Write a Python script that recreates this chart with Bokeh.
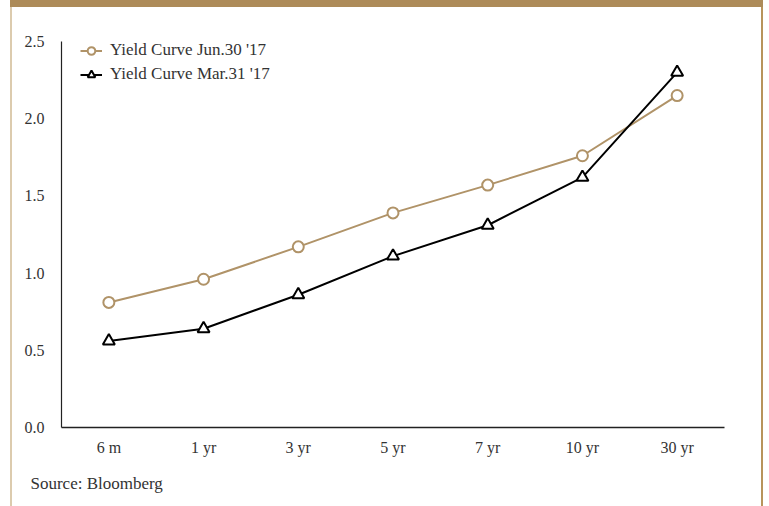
from bokeh.plotting import figure
from bokeh.models import Legend, LegendItem, FactorRange, Title, Div
from bokeh.layouts import row, column
from bokeh.embed import file_html
from bokeh.resources import INLINE

categories = ["6 m", "1 yr", "3 yr", "5 yr", "7 yr", "10 yr", "30 yr"]
jun30 = [0.81, 0.96, 1.17, 1.39, 1.57, 1.76, 2.15]
mar31 = [0.56, 0.64, 0.86, 1.11, 1.31, 1.62, 2.30]
series_names = ["Yield Curve Jun.30 '17", "Yield Curve Mar.31 '17"]
source_text = "Source: Bloomberg"

GOLD = "#B09368"
FONT = "Liberation Serif"

p = figure(width=749, height=499, x_range=FactorRange(*categories), y_range=(0, 2.5),
           output_backend="svg", toolbar_location=None,
           min_border_left=49, min_border_right=37, min_border_top=34, min_border_bottom=79)
p.outline_line_color = None
p.xgrid.visible = False
p.ygrid.visible = False
p.background_fill_color = "white"
p.border_fill_color = "white"

for ax in (p.xaxis[0], p.yaxis[0]):
    ax.major_tick_line_color = None
    ax.minor_tick_line_color = None
    ax.major_tick_out = 0
    ax.major_tick_in = 0
    ax.major_label_text_font = FONT
    ax.major_label_text_font_size = "16px"
    ax.major_label_text_color = "#333333"
    ax.axis_line_color = "#222222"
p.xaxis[0].axis_line_width = 1.5
p.yaxis[0].axis_line_width = 1.2
p.yaxis[0].ticker = [0, 0.5, 1.0, 1.5, 2.0, 2.5]
p.yaxis[0].major_label_overrides = {0: "0.0", 0.5: "0.5", 1: "1.0", 1.5: "1.5", 2: "2.0", 2.5: "2.5"}
p.yaxis[0].major_label_standoff = 17
p.xaxis[0].major_label_standoff = 11

l1 = p.line(categories, jun30, line_color=GOLD, line_width=2)
m1 = p.scatter(categories, jun30, marker="circle", size=11, fill_color="white",
               line_color=GOLD, line_width=2)
l2 = p.line(categories, mar31, line_color="black", line_width=2)
m2 = p.scatter(categories, mar31, marker="triangle", size=12, fill_color="white",
               line_color="black", line_width=2)

legend = Legend(items=[LegendItem(label=series_names[0], renderers=[l1, m1]),
                       LegendItem(label=series_names[1], renderers=[l2, m2])],
                location=(19, 343), border_line_color=None, background_fill_alpha=0,
                padding=0, margin=0, spacing=4, glyph_width=22, glyph_height=19,
                label_height=19, label_standoff=8,
                label_text_font=FONT, label_text_font_size="17px", label_text_color="#333333")
p.add_layout(legend)

p.add_layout(Title(text=source_text, align="left", offset=-31, standoff=26,
                   text_font=FONT, text_font_size="17px", text_font_style="normal",
                   text_color="#333333"), "below")

band = Div(text="", width=753, height=7, margin=0,
           styles={"background-color": "#AD8B59"})
left_edge = Div(text="", width=2, height=499, margin=0,
                styles={"background-color": "#DCCBAE"})
right_edge = Div(text="", width=2, height=499, margin=0,
                 styles={"background-color": "#B8945C"})
spacer = Div(text="", width=10, height=506, margin=0)

layout = row(spacer, column(band, row(left_edge, p, right_edge, spacing=0), spacing=0),
             spacing=0)

open("out.html", "w").write(file_html(layout, INLINE))
